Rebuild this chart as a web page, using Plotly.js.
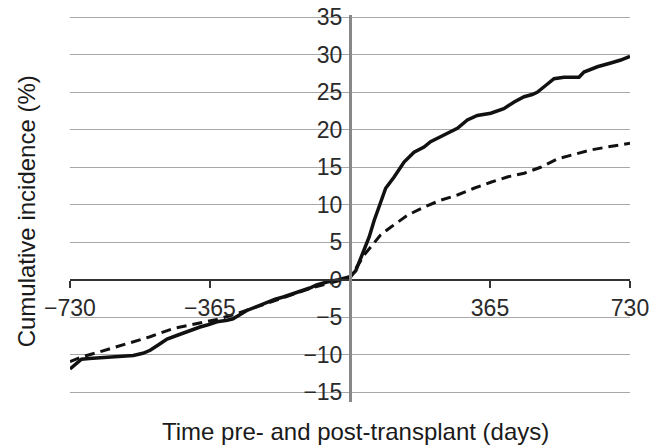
<!DOCTYPE html>
<html>
<head>
<meta charset="utf-8">
<script src="https://cdn.plot.ly/plotly-3.0.1.min.js"></script>
<style>html,body{margin:0;padding:0;background:#fff;}</style>
</head>
<body>
<div id="chart" style="width:654px;height:445px;"></div>
<script>
// Solid line
const solidDays = [-730,-715,-700,-680,-650,-600,-565,-540,-521,-500,-477,-450,-435,-410,-391,-370,-347,-320,-305,-285,-269,-240,-217,-195,-174,-150,-130,-105,-87,-60,-30,0,15,26,35,50,63,76,85,93,115,130,141,155,167,193,210,245,280,306,332,367,401,428,454,475,488,510,532,558,597,610,645,680,706,730];
const solidPct = [-11.9,-11.2,-10.6,-10.5,-10.4,-10.3,-10.1,-9.8,-9.4,-8.7,-7.9,-7.4,-7.1,-6.7,-6.3,-6.0,-5.6,-5.4,-5.2,-4.6,-4.1,-3.5,-3.0,-2.6,-2.3,-1.9,-1.6,-1.1,-0.7,-0.3,0.0,0.4,1.2,2.6,3.8,5.7,7.9,9.7,11.2,12.2,13.7,14.8,15.7,16.4,17.0,17.7,18.4,19.3,20.2,21.3,21.9,22.2,22.8,23.7,24.4,24.7,25.0,25.9,26.8,27.0,27.0,27.7,28.4,28.9,29.3,29.8];
// Dashed line
const dashDays = [-730,-700,-652,-592,-521,-461,-391,-347,-300,-250,-200,-150,-100,-50,0,20,40,58,80,106,150,193,236,280,323,367,410,454,497,540,584,627,671,730];
const dashPct = [-10.9,-10.3,-9.6,-8.7,-7.6,-6.5,-5.8,-5.3,-4.6,-3.7,-2.8,-1.9,-1.1,-0.4,0.2,1.9,3.5,4.6,6.0,7.0,8.6,9.7,10.6,11.3,12.2,13.0,13.7,14.2,15.0,16.1,16.7,17.3,17.7,18.2];
// Axes
const xTicks = [-730,-365,365,730];
const yTicks = [-15,-10,-5,0,5,10,15,20,25,30,35];
const xTitle = 'Time pre- and post-transplant (days)';
const yTitle = 'Cumulative incidence (%)';

const yMin = -16.3, yMax = 35.3;
const font = 'Liberation Sans, Arial, Helvetica, sans-serif';

const traces = [
  {x: dashDays, y: dashPct, mode: 'lines', line: {color: '#111', width: 3, dash: '10px,6px'}, hoverinfo: 'skip'},
  {x: solidDays, y: solidPct, mode: 'lines', line: {color: '#111', width: 3.5}, hoverinfo: 'skip'}
];

const layout = {
  width: 654, height: 445,
  margin: {l: 70, r: 24, t: 15, b: 43},
  paper_bgcolor: '#fff', plot_bgcolor: '#fff',
  showlegend: false,
  font: {family: font, color: '#222'},
  xaxis: {
    range: [-730, 730], anchor: 'free', position: (0 - yMin) / (yMax - yMin),
    tickvals: xTicks, ticktext: xTicks.map(v => v < 0 ? '\u2212' + Math.abs(v) : String(v)),
    ticks: 'outside', ticklen: 7, tickwidth: 2, tickcolor: '#333',
    showline: true, linecolor: '#333', linewidth: 2.5,
    showgrid: false, zeroline: false,
    tickfont: {size: 23, color: '#2a2a2a', family: font},
    ticklabelstandoff: 0
  },
  yaxis: {
    range: [yMin, yMax], anchor: 'free', position: 0.5,
    tickvals: yTicks, ticktext: yTicks.map(v => v < 0 ? '\u2212' + Math.abs(v) : String(v)),
    ticks: '', showline: true, linecolor: '#888', linewidth: 3,
    showgrid: true, gridcolor: '#a8a8a8', gridwidth: 1,
    zeroline: false,
    tickfont: {size: 23, color: '#2a2a2a', family: font},
    ticklabelstandoff: 2
  },
  annotations: [
    {text: xTitle, xref: 'paper', yref: 'paper', x: 0.509, y: -0.0775, xanchor: 'center', yanchor: 'middle', showarrow: false, font: {size: 24, color: '#1a1a1a', family: font}},
    {text: yTitle, xref: 'paper', yref: 'paper', x: -0.078, y: 0.4935, xanchor: 'center', yanchor: 'middle', textangle: -90, showarrow: false, font: {size: 24, color: '#1a1a1a', family: font}}
  ]
};

Plotly.newPlot('chart', traces, layout, {displayModeBar: false, staticPlot: true});
</script>
</body>
</html>
